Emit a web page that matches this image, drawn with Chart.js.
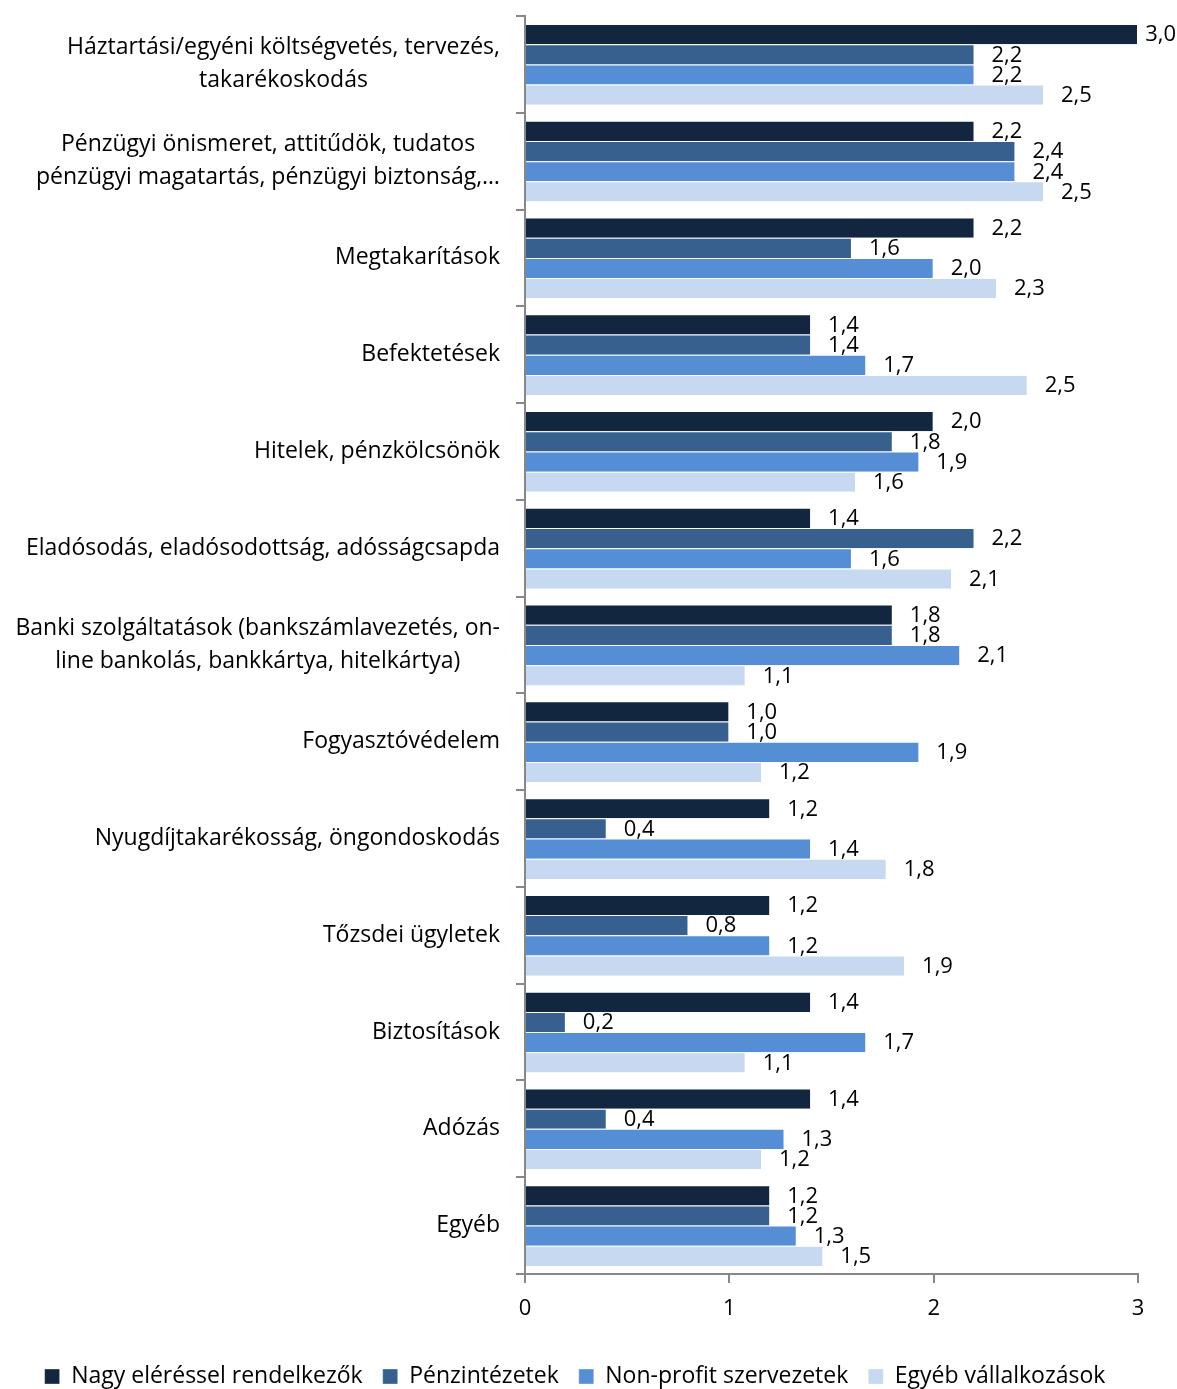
<!DOCTYPE html>
<html>
<head>
<meta charset="utf-8">
<script src="https://cdn.jsdelivr.net/npm/chart.js@4.4.1/dist/chart.umd.min.js"></script>
<style>
  html, body { margin: 0; padding: 0; background: #fff; }
  #wrap { width: 1177px; height: 1389px; }
</style>
</head>
<body>
<div id="wrap"><canvas id="chart"></canvas></div>
<script>
(function () {
  'use strict';

  var CATEGORIES = [
    ['Háztartási/egyéni költségvetés, tervezés,', 'takarékoskodás'],
    ['Pénzügyi önismeret, attitűdök, tudatos', 'pénzügyi magatartás, pénzügyi biztonság,…'],
    'Megtakarítások',
    'Befektetések',
    'Hitelek, pénzkölcsönök',
    'Eladósodás, eladósodottság, adósságcsapda',
    ['Banki szolgáltatások (bankszámlavezetés, on-', 'line bankolás, bankkártya, hitelkártya)'],
    'Fogyasztóvédelem',
    'Nyugdíjtakarékosság, öngondoskodás',
    'Tőzsdei ügyletek',
    'Biztosítások',
    'Adózás',
    'Egyéb'
  ];

  var SERIES_NAMES = ['Nagy eléréssel rendelkezők', 'Pénzintézetek', 'Non-profit szervezetek', 'Egyéb vállalkozások'];

  var NAGY = [3.0, 2.2, 2.2, 1.4, 2.0, 1.4, 1.8, 1.0, 1.2, 1.2, 1.4, 1.4, 1.2];
  var PENZ = [2.2, 2.4, 1.6, 1.4, 1.8, 2.2, 1.8, 1.0, 0.4, 0.8, 0.2, 0.4, 1.2];
  var NONPROFIT = [2.2, 2.4, 2.0, 1.67, 1.93, 1.6, 2.13, 1.93, 1.4, 1.2, 1.67, 1.27, 1.33];
  var EGYEB = [2.54, 2.54, 2.31, 2.46, 1.62, 2.09, 1.08, 1.16, 1.77, 1.86, 1.08, 1.16, 1.46];

  var X_TICKS = [0, 1, 2, 3];

  var COLORS = ['#13263f', '#37608f', '#558ed5', '#c6d9f1'];
  var FONT = "'Open Sans', Lato, sans-serif";
  var AXIS_GRAY = '#878787';

  function fmt(v) {
    return v.toFixed(1).replace('.', ',');
  }

  // value labels right of each bar
  var valueLabels = {
    id: 'valueLabels',
    afterDatasetsDraw: function (chart) {
      var ctx = chart.ctx;
      ctx.save();
      ctx.font = '22px ' + FONT;
      ctx.fillStyle = '#000';
      ctx.textBaseline = 'middle';
      ctx.textAlign = 'left';
      chart.data.datasets.forEach(function (ds, di) {
        chart.getDatasetMeta(di).data.forEach(function (bar, i) {
          var txt = fmt(ds.data[i]);
          var w = ctx.measureText(txt).width;
          var x = Math.min(bar.x + 17, chart.width - w - 1);
          ctx.fillText(txt, x, bar.y + 1);
        });
      });
      ctx.restore();
    }
  };

  // category labels: block right-aligned, lines centred within the block
  var categoryLabels = {
    id: 'categoryLabels',
    afterDraw: function (chart) {
      var ctx = chart.ctx;
      var scale = chart.scales.y;
      var lh = 33;
      ctx.save();
      ctx.font = '23px ' + FONT;
      ctx.fillStyle = '#000';
      ctx.textBaseline = 'middle';
      ctx.textAlign = 'center';
      CATEGORIES.forEach(function (lab, i) {
        var lines = Array.isArray(lab) ? lab : [lab];
        var maxW = 0;
        lines.forEach(function (l) { maxW = Math.max(maxW, ctx.measureText(l).width); });
        var cx = scale.right - 25 - maxW / 2;
        var cy = scale.getPixelForTick(i);
        var y0 = cy - (lines.length - 1) * lh / 2;
        lines.forEach(function (l, k) {
          ctx.fillText(l, cx, y0 + k * lh);
        });
      });
      ctx.restore();
    }
  };

  var datasets = [NAGY, PENZ, NONPROFIT, EGYEB].map(function (vals, k) {
    return {
      label: SERIES_NAMES[k],
      data: vals,
      backgroundColor: COLORS[k],
      borderColor: 'rgba(255,255,255,0.7)',
      borderWidth: { top: 1, bottom: 0, left: 0, right: 1 },
      barPercentage: 1.0,
      categoryPercentage: 0.835
    };
  });

  Chart.defaults.font.family = FONT;
  Chart.defaults.color = '#000';

  new Chart(document.getElementById('chart'), {
    type: 'bar',
    data: { labels: CATEGORIES.map(function (c, i) { return 'c' + i; }), datasets: datasets },
    plugins: [valueLabels, categoryLabels],
    options: {
      indexAxis: 'y',
      responsive: true,
      maintainAspectRatio: false,
      animation: false,
      layout: { padding: { top: 16, right: 39, left: 12, bottom: -9 } },
      plugins: {
        legend: {
          position: 'bottom',
          labels: {
            boxWidth: 15,
            boxHeight: 15,
            padding: 20,
            font: { size: 23, family: FONT },
            color: '#000'
          }
        },
        tooltip: { enabled: false }
      },
      scales: {
        y: {
          type: 'category',
          offset: true,
          border: { color: AXIS_GRAY, width: 2 },
          grid: { display: true, offset: true, drawOnChartArea: false, drawTicks: true, tickLength: 9, color: AXIS_GRAY, lineWidth: 2 },
          ticks: { color: 'rgba(0,0,0,0)', font: { size: 21 } },
          afterFit: function (scale) { scale.width = 513; }
        },
        x: {
          min: 0,
          max: 3,
          afterBuildTicks: function (scale) {
            scale.ticks = X_TICKS.map(function (v) { return { value: v }; });
          },
          border: { color: AXIS_GRAY, width: 2 },
          grid: { display: true, drawOnChartArea: false, drawTicks: true, tickLength: 9, color: AXIS_GRAY, lineWidth: 2 },
          ticks: { font: { size: 22 }, color: '#000', padding: 13 },
          afterFit: function (scale) { scale.height = 71; }
        }
      }
    }
  });
})();
</script>
</body>
</html>
